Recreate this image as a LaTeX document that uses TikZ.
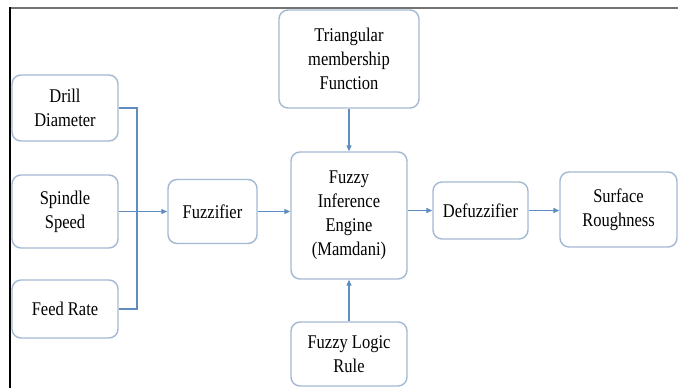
\documentclass[tikz,border=0pt]{standalone}
\usepackage{fontspec}
\setmainfont{Liberation Serif}
\newfontfamily\tnr{Liberation Serif}[FakeStretch=0.85]
\usetikzlibrary{arrows.meta}
\definecolor{boxc}{HTML}{A3B9D3}
\definecolor{linec}{HTML}{5F8DBE}
\begin{document}
\begin{tikzpicture}[x=1pt,y=-1pt,
  blk/.style={draw=boxc,line width=1.4pt,rounded corners=9pt,fill=white,align=center,
    inner sep=0pt,font=\tnr\fontsize{19.4pt}{24pt}\selectfont,text=black},
  conn/.style={draw=linec,line width=1.2pt},
  arr/.style={conn,-{Triangle[length=6pt,width=5pt]}}]
\useasboundingbox (0,0) rectangle (678,388);
\fill[white] (0,0) rectangle (678,388);
% frame
\draw[black!55,line width=2pt] (10,7.5) -- (678,7.5);
\draw[black,line width=1.5pt] (10,7) -- (10,388);
% nodes
\node[blk,minimum width=106pt,minimum height=66pt] (dd) at (65,108) {Drill\\Diameter};
\node[blk,minimum width=106pt,minimum height=73pt] (ss) at (65,211.5) {Spindle\\Speed};
\node[blk,minimum width=106pt,minimum height=58pt] (fr) at (65,309) {Feed Rate};
\node[blk,minimum width=89pt,minimum height=64pt] (fz) at (212.5,211.5) {Fuzzifier};
\node[blk,minimum width=140pt,minimum height=98pt] (tri) at (349,59) {Triangular\\membership\\Function};
\node[blk,minimum width=116pt,minimum height=127pt] (fie) at (349,215.5) {Fuzzy\\Inference\\Engine\\(Mamdani)};
\node[blk,minimum width=116pt,minimum height=64pt] (flr) at (349,354) {Fuzzy Logic\\Rule};
\node[blk,minimum width=95pt,minimum height=57pt] (def) at (480.5,210.5) {Defuzzifier};
\node[blk,minimum width=117pt,minimum height=75pt] (sr) at (618.5,209.5) {Surface\\Roughness};
% connectors
\coordinate (j) at (137,0);
\draw[conn] (dd.east) -| (j |- fr.east) -- (fr.east);
\draw[arr] (ss.east) -- (fz.west);
\draw[arr] (fz.east) -- (fz.east -| fie.west);
\draw[arr] (tri.south) -- (fie.north);
\draw[arr] (flr.north) -- (fie.south);
\draw[arr] (fie.east |- def.west) -- (def.west);
\draw[arr] (def.east) -- (def.east -| sr.west);
\end{tikzpicture}
\end{document}
